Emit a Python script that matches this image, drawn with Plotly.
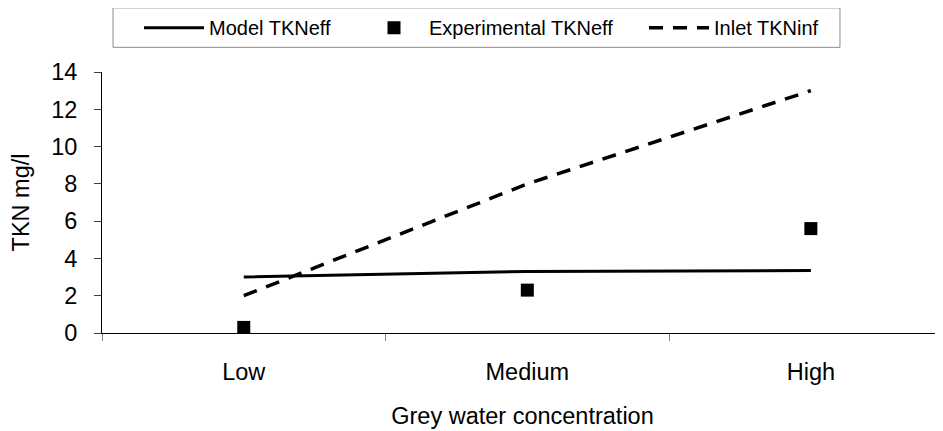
import plotly.graph_objects as go

categories = ["Low", "Medium", "High"]
model_tkneff = [3.0, 3.3, 3.35]
experimental_tkneff = [0.3, 2.3, 5.6]
inlet_tkninf = [2.0, 8.0, 13.0]
y_ticks = [0, 2, 4, 6, 8, 10, 12, 14]

FONT = "Liberation Sans, Arial, sans-serif"
TICK_SIZE = 23.5

fig = go.Figure()
fig.add_trace(go.Scatter(x=categories, y=model_tkneff, mode="lines", name="Model TKNeff",
                         line=dict(color="black", width=3), legendwidth=145))
fig.add_trace(go.Scatter(x=categories, y=experimental_tkneff, mode="markers", name="Experimental TKNeff",
                         marker=dict(symbol="square", size=13, color="black"), legendwidth=210))
fig.add_trace(go.Scatter(x=categories, y=inlet_tkninf, mode="lines", name="Inlet TKNinf",
                         line=dict(color="black", width=3.5, dash="14px,10px"), legendwidth=110))

# legend frame
fig.add_shape(type="rect", xref="paper", yref="paper", x0=0.0131, x1=0.8775, y0=1.0945, y1=1.2456,
              line=dict(color="#8c8c8c", width=1), fillcolor="rgba(0,0,0,0)", layer="below")

fig.update_layout(
    width=935, height=423,
    margin=dict(l=94, r=0, t=60, b=98),
    paper_bgcolor="white", plot_bgcolor="white",
    font=dict(family=FONT, color="black", size=TICK_SIZE),
    showlegend=True,
    legend=dict(orientation="h", x=0.044, y=1.170, xanchor="left", yanchor="middle",
                borderwidth=0, font=dict(size=20, family=FONT),
                itemwidth=60, tracegroupgap=0, bgcolor="rgba(0,0,0,0)"),
    xaxis=dict(type="category", range=[-0.5, 2.466], showline=True, linecolor="black", linewidth=1,
               ticks="outside", tickson="boundaries", ticklen=7, tickcolor="#808080",
               showgrid=False, zeroline=False, tickfont=dict(size=TICK_SIZE),
               ticklabelstandoff=18,
               title=dict(text="Grey water concentration", font=dict(size=TICK_SIZE), standoff=23)),
    yaxis=dict(range=[0, 14], tickvals=y_ticks, showline=True, linecolor="black", linewidth=1,
               ticks="outside", ticklen=7, tickcolor="#404040", showgrid=False, zeroline=False,
               tickfont=dict(size=TICK_SIZE), ticklabelstandoff=12,
               title=dict(text="TKN mg/l", font=dict(size=TICK_SIZE), standoff=18)),
)

fig.write_html("out.html")
